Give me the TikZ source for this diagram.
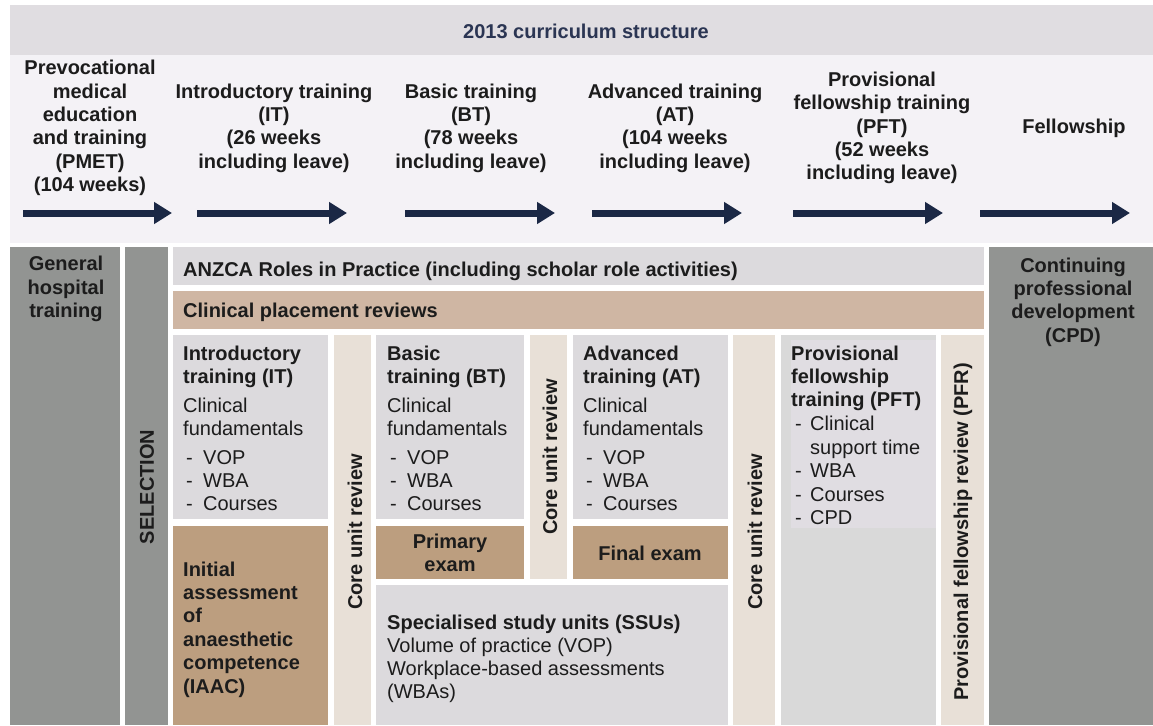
\documentclass[tikz,border=0pt]{standalone}
\usepackage{fontspec}
\setmainfont{Liberation Sans}
\usetikzlibrary{arrows.meta}

\definecolor{bandgray}{HTML}{E0DDE1}
\definecolor{lavender}{HTML}{F4F2F6}
\definecolor{slate}{HTML}{929492}
\definecolor{boxgray}{HTML}{DCDADD}
\definecolor{pftgray}{HTML}{D9D9D9}
\definecolor{pftinner}{HTML}{E0DDE2}
\definecolor{tanlight}{HTML}{CFB6A3}
\definecolor{tandark}{HTML}{BC9E7F}
\definecolor{beige}{HTML}{E8E0D7}
\definecolor{navy}{HTML}{1B2845}
\definecolor{titlenavy}{HTML}{2B3553}
\definecolor{ink}{HTML}{1C1C1C}

\begin{document}
\begin{tikzpicture}[x=1pt,y=-1pt,
  txt/.style={inner sep=0pt, text=ink, font=\fontsize{20}{23.4}\selectfont},
  boldtxt/.style={inner sep=0pt, text=ink, font=\fontsize{20}{23.4}\selectfont\bfseries},
  % multi-line blocks are placed by the baseline of their last line
  leftblock/.style={txt, align=left, anchor=base west},
  leftbold/.style={boldtxt, align=left, anchor=base west},
  phase/.style={boldtxt, align=center, anchor=center},
  vertical/.style={boldtxt, rotate=90, anchor=center},
  flow/.style={draw=navy, line width=7pt, -{Triangle[length=18pt,width=21pt]}},
]
\useasboundingbox (0,0) rectangle (1153,725);

% ---- upper band: title and phase timeline ----
\fill[bandgray] (10,5) rectangle (1153,55);
\fill[lavender] (10,55) rectangle (1153,243);

\node[boldtxt, text=titlenavy] (title) at (586,31) {2013 curriculum structure};

\node[phase] (pmet) at (90,128) {Prevocational\\medical\\education\\and training\\(PMET)\\(104 weeks)};
\node[phase] (ith) at (274,128) {Introductory training\\(IT)\\(26 weeks\\including leave)};
\node[phase] (bth) at (471,128) {Basic training\\(BT)\\(78 weeks\\including leave)};
\node[phase] (ath) at (675,128) {Advanced training\\(AT)\\(104 weeks\\including leave)};
\node[phase] (pfth) at (882,128) {Provisional\\fellowship training\\(PFT)\\(52 weeks\\including leave)};
\node[phase] (fell) at (1074,128) {Fellowship};

\coordinate (a1s) at (23,213);  \coordinate (a1e) at (172,213);
\coordinate (a2s) at (197,213); \coordinate (a2e) at (347,213);
\coordinate (a3s) at (405,213); \coordinate (a3e) at (555,213);
\coordinate (a4s) at (592,213); \coordinate (a4e) at (742,213);
\coordinate (a5s) at (793,213); \coordinate (a5e) at (943,213);
\coordinate (a6s) at (980,213); \coordinate (a6e) at (1130,213);
\draw[flow] (a1s) -- (a1e);
\draw[flow] (a2s) -- (a2e);
\draw[flow] (a3s) -- (a3e);
\draw[flow] (a4s) -- (a4e);
\draw[flow] (a5s) -- (a5e);
\draw[flow] (a6s) -- (a6e);

% ---- lower grid: blocks of the curriculum ----
\fill[slate] (10,247) rectangle (120,725);
\fill[slate] (125,247) rectangle (168,725);
\fill[slate] (989,247) rectangle (1153,725);
\fill[boxgray] (173,247) rectangle (984,285);
\fill[tanlight] (173,291) rectangle (984,329);

\fill[boxgray] (173,335) rectangle (328,519);
\fill[tandark] (173,526) rectangle (328,725);
\fill[beige] (334,335) rectangle (371,725);
\fill[boxgray] (376,335) rectangle (524,519);
\fill[tandark] (376,526) rectangle (524,579);
\fill[beige] (530,335) rectangle (567,579);
\fill[boxgray] (573,335) rectangle (728,519);
\fill[tandark] (573,526) rectangle (728,579);
\fill[boxgray] (376,585) rectangle (728,725);
\fill[beige] (733,335) rectangle (775,725);
\fill[pftgray] (781,335) rectangle (936,725);
\fill[pftinner] (791,340) rectangle (936,528);
\fill[beige] (941,335) rectangle (984,725);

% side columns
\node[phase] (ght) at (66,289) {General\\hospital\\training};
\node[vertical] (sel) at (147,487) {SELECTION};
\node[phase] (cpd) at (1073,302) {Continuing\\professional\\development\\(CPD)};

% full-width bars
\node[leftbold] (roles) at (183,276) {ANZCA Roles in Practice (including scholar role activities)};
\node[leftbold] (cpr) at (183,317) {Clinical placement reviews};

% introductory training
\node[leftbold] (ithead) at (183,383.4) {Introductory\\training (IT)};
\node[leftblock] (itbody) at (183,435.4) {Clinical\\fundamentals};
\node[leftblock] (itlist) at (186,510.8) {\makebox[17pt][l]{-}VOP\\\makebox[17pt][l]{-}WBA\\\makebox[17pt][l]{-}Courses};
\node[leftbold] (iaac) at (183,693) {Initial\\assessment\\of\\anaesthetic\\competence\\(IAAC)};

% basic training
\node[leftbold] (bthead) at (387,383.4) {Basic\\training (BT)};
\node[leftblock] (btbody) at (387,435.4) {Clinical\\fundamentals};
\node[leftblock] (btlist) at (390,510.8) {\makebox[17pt][l]{-}VOP\\\makebox[17pt][l]{-}WBA\\\makebox[17pt][l]{-}Courses};
\node[phase] (primary) at (450,553) {Primary\\exam};

% advanced training
\node[leftbold] (athead) at (583,383.4) {Advanced\\training (AT)};
\node[leftblock] (atbody) at (583,435.4) {Clinical\\fundamentals};
\node[leftblock] (atlist) at (586,510.8) {\makebox[17pt][l]{-}VOP\\\makebox[17pt][l]{-}WBA\\\makebox[17pt][l]{-}Courses};
\node[phase] (final) at (650,553) {Final exam};

% specialised study units
\node[leftbold] (ssuhead) at (387,629) {Specialised study units (SSUs)};
\node[leftblock] (ssubody) at (387,698.8) {Volume of practice (VOP)\\Workplace-based assessments\\(WBAs)};

% provisional fellowship training
\node[leftbold] (pfthead) at (791,406.8) {Provisional\\fellowship\\training (PFT)};
\node[leftblock] (pftlist) at (795,524.5) {\makebox[15pt][l]{-}Clinical\\\makebox[15pt][l]{}support time\\\makebox[15pt][l]{-}WBA\\\makebox[15pt][l]{-}Courses\\\makebox[15pt][l]{-}CPD};

% review columns
\node[vertical] (cur1) at (355,532) {Core unit review};
\node[vertical] (cur2) at (550,457) {Core unit review};
\node[vertical] (cur3) at (755,532) {Core unit review};
\node[vertical] (pfr) at (963,532) {Provisional fellowship review (PFR)};
\end{tikzpicture}
\end{document}
